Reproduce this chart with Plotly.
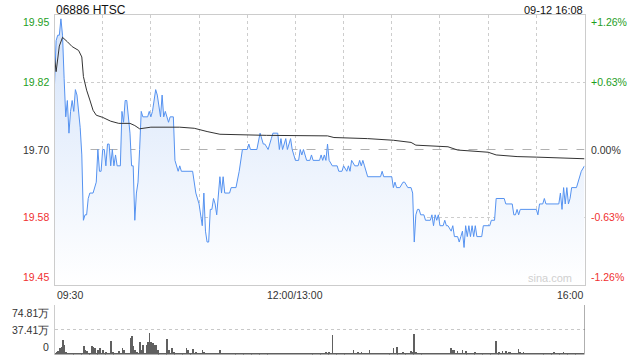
import plotly.graph_objects as go

# ---------------- data ----------------
prev_close = 19.70
title_text = "06886 HTSC"
date_text = "09-12 16:08"

# minutes since 09:30 (trading minutes, lunch removed) and price
price_min = [0, 1, 2, 3, 4, 5, 6, 7, 8, 9, 10, 11, 12, 13, 14, 15, 16, 17, 18, 19, 20, 21, 22, 24, 26, 27,
             28, 29, 30, 31, 32, 33, 34, 35, 36, 37, 38, 39, 41, 42, 43, 44, 45, 47, 48, 49, 50, 51, 52, 53,
             54, 55, 58, 59, 60, 61, 63, 64, 66, 67, 68, 69, 71, 72, 74, 75, 76, 77, 78, 79, 86, 88, 90, 92,
             93, 94, 95, 96, 97, 98, 99, 100, 101, 102, 103, 104, 105, 106, 109, 110, 113, 115, 117, 120, 121,
             122, 126, 128, 130, 131, 133, 135, 136, 139, 140, 141, 142, 144, 145, 147, 148, 150, 152, 153,
             154, 155, 156, 157, 159, 160, 161, 165, 166, 167, 168, 169, 170, 171, 173, 176, 177, 179, 180,
             182, 183, 184, 185, 187, 189, 190, 191, 192, 193, 195, 203, 204, 205, 210, 211, 212, 213, 215,
             217, 218, 220, 222, 223, 224, 225, 226, 227, 228, 230, 231, 234, 235, 236, 237, 238, 239, 240,
             242, 243, 244, 245, 247, 248, 249, 251, 252, 253, 254, 255, 256, 257, 258, 259, 260, 261, 262,
             263, 266, 267, 271, 272, 274, 275, 280, 281, 285, 286, 287, 288, 289, 290, 300, 301, 302, 304,
             305, 306, 314, 315, 316, 317, 318, 319, 320, 321, 322, 325, 327, 328, 330]
price_val = [19.82, 19.90, 19.91, 19.91, 19.94, 19.91, 19.83, 19.76, 19.79, 19.73, 19.77, 19.79, 19.77, 19.81,
             19.80, 19.77, 19.74, 19.69, 19.57, 19.58, 19.58, 19.61, 19.62, 19.62, 19.64, 19.70,
             19.66, 19.66, 19.70, 19.70, 19.67, 19.71, 19.71, 19.67, 19.70, 19.67, 19.69, 19.67, 19.67, 19.77,
             19.75, 19.79, 19.79, 19.73, 19.67, 19.67, 19.57, 19.62, 19.64, 19.70,
             19.77, 19.76, 19.76, 19.77, 19.76, 19.77, 19.81, 19.80, 19.76, 19.80, 19.76, 19.77, 19.75, 19.76,
             19.76, 19.68, 19.67, 19.66, 19.67, 19.66, 19.66, 19.62, 19.60, 19.56,
             19.62, 19.55, 19.53, 19.53, 19.59, 19.59, 19.61, 19.60, 19.58, 19.61, 19.65, 19.62, 19.65, 19.62,
             19.62, 19.63, 19.63, 19.66, 19.70, 19.70, 19.71,
             19.70, 19.70, 19.73, 19.71, 19.71, 19.70, 19.72, 19.73, 19.73, 19.70, 19.72, 19.70, 19.72, 19.70,
             19.72, 19.70, 19.68, 19.68, 19.70,
             19.69, 19.70, 19.69, 19.68, 19.68, 19.69, 19.68, 19.68, 19.69, 19.68, 19.69, 19.68, 19.71, 19.68,
             19.67, 19.67, 19.66, 19.66, 19.67,
             19.66, 19.67, 19.66, 19.68, 19.67, 19.67, 19.68, 19.67, 19.68, 19.67, 19.65, 19.65, 19.66, 19.65,
             19.65, 19.63, 19.64, 19.63, 19.63,
             19.64, 19.64, 19.63, 19.63, 19.62, 19.53, 19.58, 19.59, 19.59, 19.58, 19.58, 19.57, 19.57, 19.58,
             19.56, 19.58, 19.57, 19.58, 19.56,
             19.56, 19.57, 19.56, 19.56, 19.55, 19.56, 19.54, 19.54, 19.53, 19.54, 19.55, 19.52, 19.56, 19.54,
             19.56, 19.54, 19.56, 19.54, 19.56,
             19.54, 19.54, 19.56, 19.56, 19.57, 19.57, 19.61, 19.61, 19.60, 19.60, 19.58, 19.58, 19.59, 19.58,
             19.59, 19.59, 19.58, 19.60, 19.60,
             19.61, 19.60, 19.60, 19.62, 19.59, 19.63, 19.60, 19.63, 19.60, 19.61, 19.63, 19.63, 19.65, 19.66,
             19.67]

avg_min = [0, 1, 3, 5, 8, 11, 15, 17, 18, 20, 22, 24, 26, 30, 35, 40, 47, 50, 53, 60, 78, 87, 95, 103,
           132, 170, 174, 195, 211, 222, 225, 245, 251, 270, 275, 288, 300, 318, 330]
avg_val = [19.870, 19.843, 19.890, 19.906, 19.898, 19.889, 19.882, 19.870, 19.834, 19.809, 19.791,
           19.772, 19.763, 19.759, 19.752, 19.748, 19.748, 19.744, 19.738, 19.741, 19.741, 19.739,
           19.733, 19.728, 19.726, 19.725, 19.722, 19.720, 19.717, 19.713, 19.708, 19.705, 19.699,
           19.695, 19.690, 19.687, 19.686, 19.684, 19.683]

# volume per minute, in 万 shares (minute 0 .. 330)
vol_val = [
    3.0, 4.3, 5.3, 9.3, 11.8, 21.8, 14.3, 3.3, 2.0, 1.8,
    1.5, 1.5, 2.0, 1.5, 1.0, 1.5, 2.0, 1.5, 12.8, 6.8,
    5.3, 2.0, 1.5, 12.8, 11.8, 9.3, 2.0, 6.8, 9.3, 1.5,
    6.8, 2.0, 4.3, 1.5, 2.0, 20.8, 4.3, 1.5, 2.0, 1.5,
    5.3, 2.0, 9.3, 6.8, 2.0, 1.5, 2.0, 24.3, 28.3, 13.3,
    6.8, 4.3, 2.0, 19.3, 6.8, 14.3, 2.0, 14.3, 19.3, 31.8,
    19.3, 16.8, 14.3, 14.3, 6.8, 2.0, 1.5, 2.0, 1.0, 1.5,
    22.8, 6.8, 2.0, 10.3, 4.3, 1.5, 1.0, 1.5, 1.0, 1.5,
    1.0, 1.5, 9.3, 6.8, 1.5, 1.0, 7.8, 2.0, 4.3, 1.5,
    1.0, 1.5, 6.8, 4.3, 1.5, 1.0, 1.5, 1.0, 1.5, 1.0,
    1.5, 1.0, 1.5, 6.8, 1.5, 1.0, 1.5, 2.0, 1.0, 1.5,
    1.0, 1.5, 1.0, 2.0, 1.0, 1.5, 1.0, 1.0, 1.5, 1.0,
    1.5, 1.0, 1.0, 1.5, 1.0, 1.0, 1.5, 1.0, 1.0, 1.5,
    1.0, 1.0, 1.5, 1.0, 1.0, 1.0, 1.5, 1.0, 1.0, 1.0,
    1.5, 1.0, 1.0, 1.0, 1.5, 1.0, 1.0, 1.0, 1.5, 1.0,
    1.5, 1.0, 1.0, 1.5, 1.0, 1.0, 1.0, 1.5, 1.0, 1.0,
    1.5, 1.0, 1.0, 1.0, 1.5, 1.0, 1.5, 2.0, 1.5, 3.3,
    2.0, 4.3, 1.5, 29.3, 2.0, 1.5, 1.0, 1.5, 1.0, 1.0,
    1.5, 1.0, 1.0, 1.5, 1.0, 1.0, 6.8, 1.5, 1.0, 3.3,
    1.0, 4.3, 1.5, 1.0, 1.0, 1.5, 6.8, 1.5, 1.0, 1.0,
    1.5, 1.0, 1.0, 1.5, 1.0, 1.0, 1.5, 1.0, 1.0, 1.5,
    1.0, 10.3, 1.5, 11.8, 1.0, 1.5, 1.0, 3.3, 1.0, 1.5,
    1.0, 1.5, 5.3, 4.3, 30.8, 3.3, 1.5, 1.0, 1.8, 1.0,
    1.5, 1.0, 1.0, 1.5, 1.0, 1.0, 1.5, 1.0, 1.0, 1.5,
    1.0, 1.0, 1.5, 1.0, 1.5, 1.0, 2.0, 10.3, 6.8, 6.8,
    1.5, 5.3, 2.0, 1.5, 6.8, 1.5, 5.3, 1.5, 1.0, 1.5,
    1.0, 1.5, 3.3, 1.0, 1.5, 1.0, 1.0, 1.5, 1.0, 1.0,
    1.5, 1.0, 1.5, 1.0, 1.5, 20.3, 1.5, 4.3, 1.0, 5.3,
    1.5, 5.3, 1.0, 4.3, 4.3, 1.5, 1.0, 1.5, 1.0, 7.8,
    4.3, 1.5, 3.3, 1.0, 1.5, 1.0, 1.0, 1.5, 1.8, 1.0,
    1.5, 1.0, 1.0, 1.5, 1.0, 1.0, 1.5, 1.0, 1.0, 1.5,
    1.0, 3.3, 1.0, 1.5, 1.0, 1.8, 1.0, 3.3, 1.5, 1.0,
    1.5, 1.8, 1.0, 1.5, 1.0, 1.0, 1.5, 1.0, 1.0, 1.8,
    74.81]
vol_min = list(range(len(vol_val)))

# axis / tick labels
y_tick_vals = [19.948, 19.824, 19.70, 19.576, 19.452]
y_left_text = ["19.95", "19.82", "19.70", "19.58", "19.45"]
y_right_text = ["+1.26%", "+0.63%", "0.00%", "-0.63%", "-1.26%"]
x_tick_vals = [0, 150, 330]
x_tick_text = ["09:30", "12:00/13:00", "16:00"]
vol_tick_vals = [74.81, 37.41, 0]
vol_tick_text = ["74.81万", "37.41万", "0"]
x_grid_vals = [30, 60, 90, 120, 150, 180, 210, 240, 270, 300]

# ---------------- styling ----------------
W, H = 640, 360
FONT = "Liberation Sans, Arial, sans-serif"
GREEN, RED, DARK = "#1e9e1e", "#f03030", "#333333"
BLUE = "#5592f0"


def px(xp):
    return xp / W


def py(yp):
    return 1 - yp / H


X_DOM = [px(54.5), px(584.5)]
MAIN_DOM = [py(284.5), py(14.5)]
VOL_DOM = [py(354.5), py(305)]
Y_RANGE = [19.452, 19.948]

fig = go.Figure()

fig.add_trace(go.Scatter(
    x=price_min, y=price_val, mode="lines",
    line=dict(color=BLUE, width=1),
    fill="tozeroy",
    fillgradient=dict(type="vertical", start=Y_RANGE[0], stop=Y_RANGE[1],
                      colorscale=[[0, "rgb(255,255,255)"], [1, "rgb(212,227,250)"]]),
    xaxis="x", yaxis="y", hoverinfo="skip", showlegend=False))

fig.add_trace(go.Scatter(
    x=avg_min, y=avg_val, mode="lines",
    line=dict(color="#333333", width=1),
    xaxis="x", yaxis="y", hoverinfo="skip", showlegend=False))

fig.add_trace(go.Bar(
    x=vol_min, y=vol_val, width=0.45,
    marker=dict(color="#606060", line=dict(width=0)),
    xaxis="x2", yaxis="y2", hoverinfo="skip", showlegend=False))

fig.update_layout(
    width=W, height=H,
    margin=dict(l=0, r=0, t=0, b=0),
    paper_bgcolor="white", plot_bgcolor="white",
    font=dict(family=FONT, size=10.5, color=DARK),
    bargap=0,
    xaxis=dict(domain=X_DOM, range=[0, 330], anchor="y",
               tickvals=x_grid_vals, showticklabels=False, ticks="",
               showgrid=True, gridcolor="#cdcdcd", griddash="dot", gridwidth=1,
               showline=True, linecolor="#cccccc", linewidth=1, mirror=True,
               zeroline=False, fixedrange=True),
    yaxis=dict(domain=MAIN_DOM, range=Y_RANGE, anchor="x",
               tickvals=[y_tick_vals[1], y_tick_vals[3]], showticklabels=False, ticks="",
               showgrid=True, gridcolor="#cdcdcd", griddash="dot", gridwidth=1,
               showline=True, linecolor="#cccccc", linewidth=1, mirror=True,
               zeroline=False, fixedrange=True),
    xaxis2=dict(domain=X_DOM, range=[0, 330.4], anchor="y2",
                showticklabels=False, ticks="", showgrid=False,
                showline=False, zeroline=False, fixedrange=True),
    yaxis2=dict(domain=VOL_DOM, range=[0, vol_tick_vals[0]], anchor="x2",
                tickvals=vol_tick_vals[:2], showticklabels=False, ticks="",
                showgrid=True, gridcolor="#c8c8c8", griddash="dot", gridwidth=1,
                showline=True, linecolor="#cccccc", linewidth=1,
                zeroline=False, fixedrange=True),
)

# previous-close reference line
fig.add_shape(type="line", xref="x", yref="y", x0=0, x1=330, y0=prev_close, y1=prev_close,
              line=dict(color="#b0b0b0", width=1, dash="dash"), layer="below")

ann = []
label_colors = [GREEN, GREEN, DARK, RED, RED]
for i, v in enumerate(y_tick_vals):
    yanchor = "top" if i == 0 else ("bottom" if i == len(y_tick_vals) - 1 else "middle")
    ann.append(dict(x=px(51), xref="paper", y=v, yref="y", text=y_left_text[i],
                    xanchor="right", yanchor=yanchor, showarrow=False,
                    font=dict(color=label_colors[i], size=10.5, family=FONT)))
    ann.append(dict(x=px(589), xref="paper", y=v, yref="y", text=y_right_text[i],
                    xanchor="left", yanchor=yanchor, showarrow=False,
                    font=dict(color=label_colors[i], size=10.5, family=FONT)))

x_anchors = ["left", "center", "right"]
for v, t, a in zip(x_tick_vals, x_tick_text, x_anchors):
    ann.append(dict(x=v, xref="x", y=py(287), yref="paper", text=t,
                    xanchor=a, yanchor="top", showarrow=False,
                    font=dict(color=DARK, size=10.5, family=FONT)))

vol_anchors = ["top", "middle", "bottom"]
for v, t, a in zip(vol_tick_vals, vol_tick_text, vol_anchors):
    ann.append(dict(x=px(51), xref="paper", y=v, yref="y2", text=t,
                    xanchor="right", yanchor=a, showarrow=False,
                    font=dict(color=DARK, size=10.5, family=FONT)))

ann.append(dict(x=px(54), xref="paper", y=py(1.5), yref="paper", text=title_text,
                xanchor="left", yanchor="top", showarrow=False,
                font=dict(color="#111111", size=12, family=FONT)))
ann.append(dict(x=px(585), xref="paper", y=py(2), yref="paper", text=date_text,
                xanchor="right", yanchor="top", showarrow=False,
                font=dict(color="#111111", size=11, family=FONT)))
ann.append(dict(x=px(574), xref="paper", y=py(278), yref="paper", text="sina.com",
                xanchor="right", yanchor="middle", showarrow=False,
                font=dict(color="#d0d0d0", size=11, family=FONT)))

fig.update_layout(annotations=ann)

fig.write_html("out.html")
